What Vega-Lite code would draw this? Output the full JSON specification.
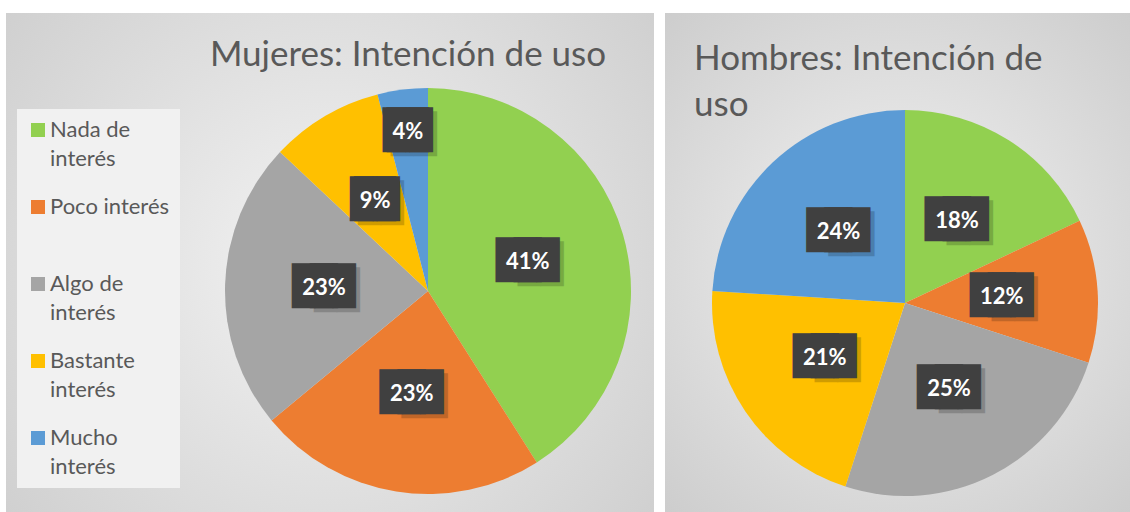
{
  "$schema": "https://vega.github.io/schema/vega-lite/v6.json",
  "background": "white",
  "padding": {"left": 6, "top": 13, "right": 0, "bottom": 0},
  "spacing": 11,
  "bounds": "flush",
  "config": {
    "font": "Lato",
    "view": {"stroke": "#c9c9c9"},
    "style": {"guide-label": {"lineHeight": 29}}
  },
  "datasets": {
    "mujeres": [
      {"k": 1, "nivel": "Nada de interés", "p": 0.41},
      {"k": 2, "nivel": "Poco interés", "p": 0.23},
      {"k": 3, "nivel": "Algo de interés", "p": 0.23},
      {"k": 4, "nivel": "Bastante interés", "p": 0.09},
      {"k": 5, "nivel": "Mucho interés", "p": 0.04}
    ],
    "hombres": [
      {"k": 1, "nivel": "Nada de interés", "p": 0.18},
      {"k": 2, "nivel": "Poco interés", "p": 0.12},
      {"k": 3, "nivel": "Algo de interés", "p": 0.25},
      {"k": 4, "nivel": "Bastante interés", "p": 0.21},
      {"k": 5, "nivel": "Mucho interés", "p": 0.24}
    ]
  },
  "resolve": {"legend": {"color": "independent"}},
  "hconcat": [
    {
      "width": 648,
      "height": 499,
      "title": {"text": "Mujeres: Intención de uso", "font": "Lato", "fontSize": 35, "fontWeight": "normal", "color": "#595959", "anchor": "middle", "dx": 78, "offset": -60, "baseline": "top"},
      "layer": [
        {
          "data": {"values": [{}]},
          "mark": {"type": "rect", "color": {"gradient": "radial", "x1": 0.5, "y1": 0.5, "r1": 0, "x2": 0.5, "y2": 0.5, "r2": 0.72,
            "stops": [{"offset": 0, "color": "#f3f3f3"}, {"offset": 1, "color": "#cbcbcb"}]}},
          "encoding": {}
        },
        {
          "data": {"name": "mujeres"},
          "mark": {"type": "arc", "radius": 203, "x": 422, "y": 278, "stroke": null},
          "encoding": {
            "theta": {"field": "p", "type": "quantitative", "stack": true},
            "order": {"field": "k", "type": "quantitative"},
            "color": {
              "field": "nivel", "type": "nominal",
              "scale": {"domain": ["Nada de interés", "Poco interés", "Algo de interés", "Bastante interés", "Mucho interés"],
                        "range": ["#92d050", "#ed7d31", "#a5a5a5", "#ffc000", "#5b9bd5"]},
              "legend": {
                "orient": "none", "legendX": 11, "legendY": 96, "title": null,
                "fillColor": "#f1f1f1", "padding": 10,
                "symbolType": "square", "symbolSize": 196, "symbolStrokeWidth": 0,
                "labelFont": "Lato", "labelFontSize": 22, "labelColor": "#595959", "labelOffset": 1,
                "labelLimit": 200, "gridAlign": "all", "rowPadding": 26,
                "labelExpr": "datum.label == 'Poco interés' ? datum.label : [slice(datum.label, 0, length(datum.label) - 8), 'interés']",
                "encode": {"labels": {"update": {"lineHeight": {"value": 29}}}}
              }
            }
          }
        },
        {
          "data": {"name": "mujeres"},
          "encoding": {
            "theta": {"field": "p", "type": "quantitative", "stack": true},
            "order": {"field": "k", "type": "quantitative"},
            "detail": {"field": "nivel"}
          },
          "layer": [
            {"mark": {"type": "text", "text": "██", "font": "DejaVu Sans Mono", "fontSize": 38, "color": "#000000", "opacity": 0.18, "x": 422, "y": 278,
                      "radius": {"expr": "datum.p < 0.05 ? 160 : 104"}, "dx": {"expr": "datum.p < 0.1 ? 6 : 13"}, "dy": 4, "align": "center", "baseline": "middle"}},
            {"mark": {"type": "text", "text": "██", "font": "DejaVu Sans Mono", "fontSize": 38, "color": "#404040", "x": 422, "y": 278,
                      "radius": {"expr": "datum.p < 0.05 ? 160 : 104"}, "dx": {"expr": "datum.p < 0.1 ? -2 : -9"}, "align": "center", "baseline": "middle"}},
            {"mark": {"type": "text", "text": "██", "font": "DejaVu Sans Mono", "fontSize": 38, "color": "#404040", "x": 422, "y": 278,
                      "radius": {"expr": "datum.p < 0.05 ? 160 : 104"}, "dx": {"expr": "datum.p < 0.1 ? 2 : 9"}, "align": "center", "baseline": "middle"}},
            {"mark": {"type": "text", "font": "Lato", "fontSize": 22, "fontWeight": "bold", "color": "white", "x": 422, "y": 278,
                      "radius": {"expr": "datum.p < 0.05 ? 160 : 104"}, "align": "center", "baseline": "middle"},
             "encoding": {"text": {"field": "p", "type": "quantitative", "format": ".0%"}}}
          ]
        }
      ]
    },
    {
      "width": 465,
      "height": 499,
      "title": {"text": ["Hombres: Intención de", "uso"], "font": "Lato", "fontSize": 35, "fontWeight": "normal", "color": "#595959", "anchor": "start", "dx": 29, "offset": -110, "baseline": "top", "lineHeight": 46},
      "layer": [
        {
          "data": {"values": [{}]},
          "mark": {"type": "rect", "color": {"gradient": "radial", "x1": 0.5, "y1": 0.5, "r1": 0, "x2": 0.5, "y2": 0.5, "r2": 0.72,
            "stops": [{"offset": 0, "color": "#f3f3f3"}, {"offset": 1, "color": "#cbcbcb"}]}},
          "encoding": {}
        },
        {
          "data": {"name": "hombres"},
          "mark": {"type": "arc", "radius": 193, "x": 240, "y": 290, "stroke": null},
          "encoding": {
            "theta": {"field": "p", "type": "quantitative", "stack": true},
            "order": {"field": "k", "type": "quantitative"},
            "color": {
              "field": "nivel", "type": "nominal",
              "scale": {"domain": ["Nada de interés", "Poco interés", "Algo de interés", "Bastante interés", "Mucho interés"],
                        "range": ["#92d050", "#ed7d31", "#a5a5a5", "#ffc000", "#5b9bd5"]},
              "legend": null
            }
          }
        },
        {
          "data": {"name": "hombres"},
          "encoding": {
            "theta": {"field": "p", "type": "quantitative", "stack": true},
            "order": {"field": "k", "type": "quantitative"},
            "detail": {"field": "nivel"}
          },
          "layer": [
            {"mark": {"type": "text", "text": "██", "font": "DejaVu Sans Mono", "fontSize": 38, "color": "#000000", "opacity": 0.18, "x": 240, "y": 290,
                      "radius": 97, "dx": 13, "dy": 4, "align": "center", "baseline": "middle"}},
            {"mark": {"type": "text", "text": "██", "font": "DejaVu Sans Mono", "fontSize": 38, "color": "#404040", "x": 240, "y": 290,
                      "radius": 97, "dx": -9, "align": "center", "baseline": "middle"}},
            {"mark": {"type": "text", "text": "██", "font": "DejaVu Sans Mono", "fontSize": 38, "color": "#404040", "x": 240, "y": 290,
                      "radius": 97, "dx": 9, "align": "center", "baseline": "middle"}},
            {"mark": {"type": "text", "font": "Lato", "fontSize": 22, "fontWeight": "bold", "color": "white", "x": 240, "y": 290,
                      "radius": 97, "align": "center", "baseline": "middle"},
             "encoding": {"text": {"field": "p", "type": "quantitative", "format": ".0%"}}}
          ]
        }
      ]
    }
  ]
}
